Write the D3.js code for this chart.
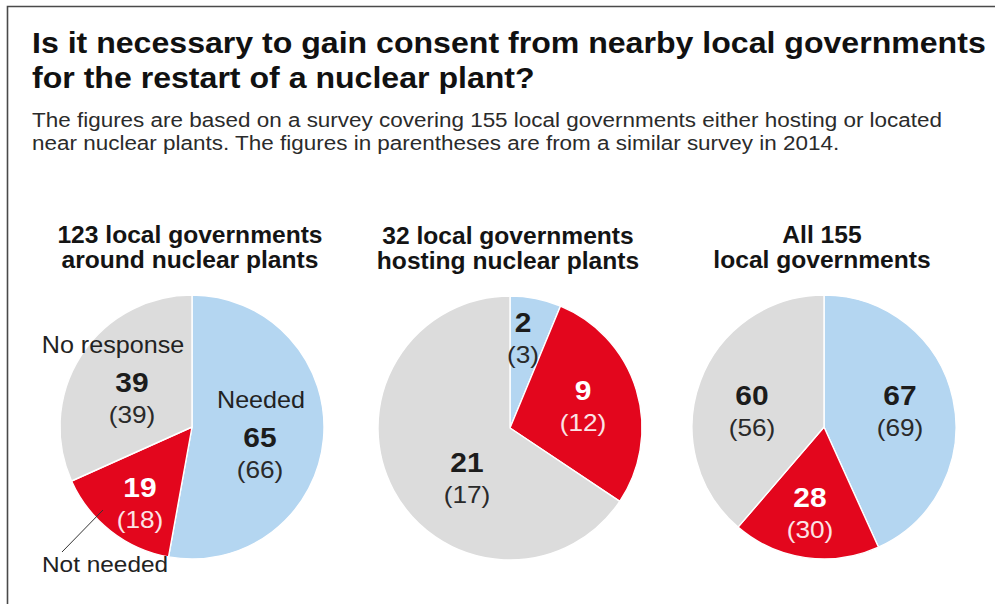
<!DOCTYPE html>
<html>
<head>
<meta charset="utf-8">
<script src="https://cdn.jsdelivr.net/npm/d3@7/dist/d3.min.js"></script>
<style>
  html, body { margin: 0; padding: 0; background: #fff; }
  svg { display: block; font-family: "Liberation Sans", Arial, Helvetica, sans-serif; }
</style>
</head>
<body>
<svg id="chart" width="995" height="604"></svg>
<script>
// Survey answers, slices in clockwise order from 12 o'clock
const categories = ["Needed", "Not needed", "No response"];
const groupTitles = [
  ["123 local governments", "around nuclear plants"],
  ["32 local governments", "hosting nuclear plants"],
  ["All 155", "local governments"]
];
const values2016 = [
  [65, 19, 39],
  [2, 9, 21],
  [67, 28, 60]
];
const values2014 = [
  [66, 18, 39],
  [3, 12, 17],
  [69, 30, 56]
];
const titleLines = [
  "Is it necessary to gain consent from nearby local governments",
  "for the restart of a nuclear plant?"
];
const noteLines = [
  "The figures are based on a survey covering 155 local governments either hosting or located",
  "near nuclear plants. The figures in parentheses are from a similar survey in 2014."
];

// Layout
const W = 995, H = 604;
const radius = 132;
const widen = 1.07;   // type is set slightly extended
const centers = [[192, 427], [510, 428], [824, 427]];
// label anchor (baseline of bold figure) relative to each pie centre
const labelOffsets = [
  [[68, 20], [-52, 70], [-60, -35]],
  [[13, -96], [73, -28], [-43, 44]],
  [[76, -22], [-14, 80], [-72, -22]]
];

const color = d3.scaleOrdinal()
  .domain(categories)
  .range(["#b4d6f1", "#e3061d", "#dcdcdc"]);
const textColor = d3.scaleOrdinal()
  .domain(categories)
  .range(["#1c1c1c", "#ffffff", "#1c1c1c"]);
const parenColor = d3.scaleOrdinal()
  .domain(categories)
  .range(["#2a2a2a", "#fbe3e5", "#2a2a2a"]);

const svg = d3.select("#chart");
const place = (x, y) => `translate(${x},${y}) scale(${widen},1)`;

// frame (left and top rules)
svg.append("path")
  .attr("d", `M7.5,${H} V6.5 H${W}`)
  .attr("fill", "none")
  .attr("stroke", "#4a4a4a")
  .attr("stroke-width", 1.6);

// headline
svg.append("g").selectAll("text")
  .data(titleLines).join("text")
  .attr("transform", (d, i) => place(32, 53 + i * 34.5))
  .attr("font-size", 30)
  .attr("font-weight", "bold")
  .attr("fill", "#111")
  .text(d => d);

svg.append("g").selectAll("text")
  .data(noteLines).join("text")
  .attr("transform", (d, i) => place(32, 127 + i * 22.5))
  .attr("font-size", 21)
  .attr("fill", "#2b2b2b")
  .text(d => d);

const pie = d3.pie().sort(null).value(d => d.value);
const arc = d3.arc().innerRadius(0).outerRadius(radius);

values2016.forEach((vals, gi) => {
  const [cx, cy] = centers[gi];
  const g = svg.append("g").attr("transform", `translate(${cx},${cy})`);

  // group heading
  g.append("g").selectAll("text")
    .data(groupTitles[gi]).join("text")
    .attr("transform", (d, i) => place(-2, -184 + i * 25))
    .attr("text-anchor", "middle")
    .attr("font-size", 23)
    .attr("font-weight", "bold")
    .attr("fill", "#141414")
    .text(d => d);

  const data = categories.map((c, i) => ({ cat: c, value: vals[i], prev: values2014[gi][i], idx: i }));
  const arcs = pie(data);

  g.append("g").selectAll("path")
    .data(arcs).join("path")
    .attr("d", arc)
    .attr("fill", d => color(d.data.cat))
    .attr("stroke", "#fff")
    .attr("stroke-width", 1.4)
    .attr("stroke-linejoin", "round");

  const labels = g.append("g").selectAll("g")
    .data(arcs).join("g")
    .attr("transform", d => {
      const o = labelOffsets[gi][d.data.idx];
      return place(o[0], o[1]);
    });

  labels.append("text")
    .attr("text-anchor", "middle")
    .attr("font-size", 28)
    .attr("font-weight", "bold")
    .attr("fill", d => textColor(d.data.cat))
    .text(d => d.data.value);

  labels.append("text")
    .attr("y", 31)
    .attr("text-anchor", "middle")
    .attr("font-size", 24.5)
    .attr("fill", d => parenColor(d.data.cat))
    .text(d => `(${d.data.prev})`);

  // category names on the first pie
  if (gi === 0) {
    g.append("text")
      .attr("transform", place(69, -19))
      .attr("text-anchor", "middle")
      .attr("font-size", 23.5)
      .attr("fill", "#222")
      .text(categories[0]);
    g.append("text")
      .attr("transform", place(-79, -74))
      .attr("text-anchor", "middle")
      .attr("font-size", 23.5)
      .attr("fill", "#222")
      .text(categories[2]);
    g.append("line")
      .attr("x1", -89).attr("y1", 83)
      .attr("x2", -130).attr("y2", 125)
      .attr("stroke", "#333")
      .attr("stroke-width", 1);
    g.append("text")
      .attr("transform", place(-150, 145))
      .attr("font-size", 22.8)
      .attr("fill", "#222")
      .text(categories[1]);
  }
});
</script>
</body>
</html>
